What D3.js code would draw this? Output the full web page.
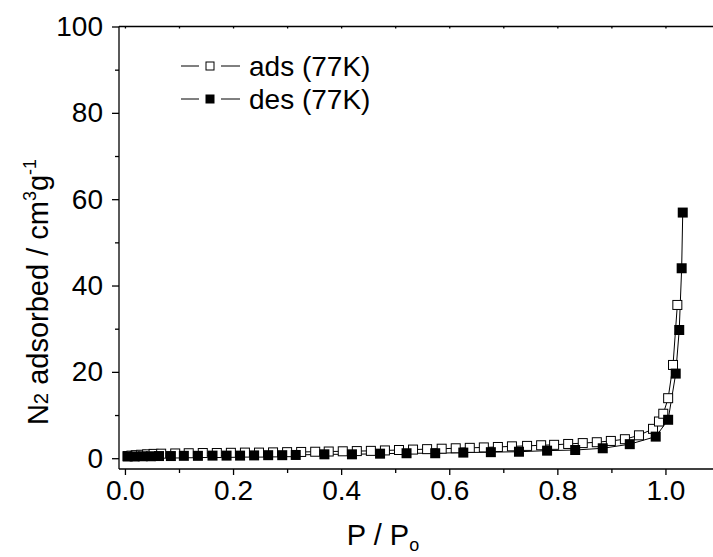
<!DOCTYPE html>
<html>
<head>
<meta charset="utf-8">
<script src="https://cdn.jsdelivr.net/npm/d3@7/dist/d3.min.js"></script>
<style>
  html, body { margin: 0; padding: 0; background: #fff; }
  svg { display: block; }
  text { font-family: "Liberation Sans", Arial, sans-serif; fill: #000; }
</style>
</head>
<body>
<svg id="chart" width="713" height="557"></svg>
<script>
// N2 isotherm at 77 K: relative pressure vs adsorbed volume (cm3/g)
const adsP = [0.005, 0.012, 0.02, 0.03, 0.041, 0.053, 0.067, 0.093, 0.118, 0.144, 0.170, 0.196,
  0.222, 0.248, 0.274, 0.300, 0.326, 0.352, 0.377, 0.403, 0.429, 0.455, 0.481, 0.507, 0.533,
  0.559, 0.586, 0.612, 0.638, 0.664, 0.690, 0.716, 0.744, 0.770, 0.794, 0.820, 0.847, 0.873,
  0.899, 0.925, 0.951, 0.977, 0.988, 0.996, 1.005, 1.014, 1.022];
const adsV = [0.5, 0.6, 0.7, 0.8, 0.9, 1.0, 1.05, 1.1, 1.15, 1.2, 1.2, 1.25,
  1.3, 1.3, 1.35, 1.4, 1.45, 1.5, 1.55, 1.6, 1.65, 1.7, 1.8, 1.9, 2.0,
  2.1, 2.2, 2.3, 2.4, 2.5, 2.6, 2.75, 2.85, 3.0, 3.1, 3.3, 3.5, 3.7,
  4.0, 4.4, 5.3, 6.8, 8.5, 10.3, 13.9, 21.6, 35.5];

const desP = [0.005, 0.018, 0.033, 0.048, 0.063, 0.085, 0.109, 0.135, 0.162, 0.188, 0.213,
  0.239, 0.265, 0.291, 0.316, 0.369, 0.420, 0.472, 0.521, 0.574, 0.626, 0.677, 0.729, 0.781,
  0.833, 0.884, 0.934, 0.982, 1.005, 1.019, 1.0255, 1.030, 1.032];
const desV = [0.4, 0.4, 0.45, 0.45, 0.5, 0.5, 0.55, 0.55, 0.6, 0.6, 0.6,
  0.65, 0.7, 0.7, 0.75, 0.9, 0.9, 1.05, 1.15, 1.15, 1.3, 1.4, 1.5, 1.75,
  1.9, 2.3, 3.25, 5.0, 8.9, 19.6, 29.7, 44.0, 56.9];

const seriesNames = ["ads (77K)", "des (77K)"];
const xTicks = [0, 0.2, 0.4, 0.6, 0.8, 1.0];
const yTicks = [0, 20, 40, 60, 80, 100];

const svg = d3.select("#chart");
const plotL = 119, plotT = 26.5, plotB = 469, plotR = 719.5;

const x = d3.scaleLinear().domain([-0.011, 1.1]).range([plotL, plotR]);
const y = d3.scaleLinear().domain([-2.5, 100]).range([plotB, plotT]);

const fs = 28;      // tick labels and legend
const fsTitle = 29; // axis titles

// frame lines
svg.append("line").attr("x1", plotL).attr("x2", plotR).attr("y1", plotT).attr("y2", plotT)
  .attr("stroke", "#000").attr("stroke-width", 1.3);
svg.append("line").attr("x1", plotL).attr("x2", plotR).attr("y1", plotB).attr("y2", plotB)
  .attr("stroke", "#000").attr("stroke-width", 1.3);
svg.append("line").attr("x1", plotL).attr("x2", plotL).attr("y1", plotT).attr("y2", plotB)
  .attr("stroke", "#000").attr("stroke-width", 1.3);

// bottom axis
const xMinor = d3.range(0, 1.11, 0.1);
const xAxis = d3.axisBottom(x).tickValues(xTicks).tickFormat(d3.format(".1f"))
  .tickSizeInner(6).tickSizeOuter(0).tickPadding(5);
const gx = svg.append("g").attr("transform", `translate(0,${plotB})`).call(xAxis);
gx.select(".domain").remove();
gx.selectAll(".tick line").attr("stroke-width", 1.3);
gx.selectAll(".tick text").attr("font-size", fs).attr("font-family", "Liberation Sans, Arial, sans-serif");
const gxm = svg.append("g").attr("transform", `translate(0,${plotB})`)
  .call(d3.axisBottom(x).tickValues(xMinor.filter((d, i) => i % 2 === 1)).tickSize(4).tickFormat(""));
gxm.select(".domain").remove();
gxm.selectAll(".tick line").attr("stroke-width", 1.3);

// top axis: small inward ticks
const gt = svg.append("g").attr("transform", `translate(0,${plotT})`)
  .call(d3.axisBottom(x).tickValues(xMinor).tickSize(2).tickFormat(""));
gt.select(".domain").remove();
gt.selectAll(".tick line").attr("stroke-width", 1.3);

// left axis
const yMinor = d3.range(10, 100, 20);
const yAxis = d3.axisLeft(y).tickValues(yTicks).tickFormat(d3.format("d"))
  .tickSizeInner(7).tickSizeOuter(0).tickPadding(9);
const gy = svg.append("g").attr("transform", `translate(${plotL},0)`).call(yAxis);
gy.select(".domain").remove();
gy.selectAll(".tick line").attr("stroke-width", 1.3);
gy.selectAll(".tick text").attr("font-size", fs).attr("font-family", "Liberation Sans, Arial, sans-serif");
const gym = svg.append("g").attr("transform", `translate(${plotL},0)`)
  .call(d3.axisLeft(y).tickValues(yMinor).tickSize(4).tickFormat(""));
gym.select(".domain").remove();
gym.selectAll(".tick line").attr("stroke-width", 1.3);

// series
const ads = adsP.map((p, i) => [p, adsV[i]]);
const des = desP.map((p, i) => [p, desV[i]]);
const line = d3.line().x(d => x(d[0])).y(d => y(d[1]));

svg.append("path").datum(ads).attr("d", line).attr("fill", "none")
  .attr("stroke", "#000").attr("stroke-width", 1);
svg.append("path").datum(des).attr("d", line).attr("fill", "none")
  .attr("stroke", "#000").attr("stroke-width", 1);

const sq = 9;
svg.append("g").selectAll("rect").data(ads).join("rect")
  .attr("x", d => x(d[0]) - sq / 2).attr("y", d => y(d[1]) - sq / 2)
  .attr("width", sq).attr("height", sq)
  .attr("fill", "#fff").attr("stroke", "#000").attr("stroke-width", 1);
svg.append("g").selectAll("rect").data(des).join("rect")
  .attr("x", d => x(d[0]) - sq / 2 - 0.5).attr("y", d => y(d[1]) - sq / 2 - 0.5)
  .attr("width", sq + 1).attr("height", sq + 1)
  .attr("fill", "#000");

// legend
const legend = svg.append("g");
const legRows = [{ name: seriesNames[0], filled: false, cy: 66 }, { name: seriesNames[1], filled: true, cy: 99 }];
legRows.forEach(r => {
  legend.append("line").attr("x1", 181).attr("x2", 199).attr("y1", r.cy).attr("y2", r.cy)
    .attr("stroke", "#000").attr("stroke-width", 1);
  legend.append("line").attr("x1", 221).attr("x2", 240).attr("y1", r.cy).attr("y2", r.cy)
    .attr("stroke", "#000").attr("stroke-width", 1);
  if (r.filled) {
    legend.append("rect").attr("x", 205.5).attr("y", r.cy - 4.5).attr("width", 9).attr("height", 9).attr("fill", "#000");
  } else {
    legend.append("rect").attr("x", 206).attr("y", r.cy - 4).attr("width", 8).attr("height", 8)
      .attr("fill", "#fff").attr("stroke", "#000").attr("stroke-width", 1);
  }
  legend.append("text").attr("x", 249).attr("y", r.cy).attr("dy", "0.35em")
    .attr("font-size", fs).text(r.name);
});

// axis titles
const xt = svg.append("text").attr("x", 383).attr("y", 545).attr("text-anchor", "middle").attr("font-size", fsTitle);
xt.append("tspan").text("P / P");
xt.append("tspan").attr("font-size", fsTitle * 0.62).attr("dy", 6).text("o");

const yt = svg.append("text").attr("transform", "translate(48,292) rotate(-90)")
  .attr("text-anchor", "middle").attr("font-size", fsTitle);
yt.append("tspan").text("N");
yt.append("tspan").attr("font-size", fsTitle * 0.7).text("2");
yt.append("tspan").text(" adsorbed / cm");
yt.append("tspan").attr("font-size", fsTitle * 0.62).attr("dy", -12).text("3");
yt.append("tspan").attr("dy", 12).text("g");
yt.append("tspan").attr("font-size", fsTitle * 0.62).attr("dy", -12).text("-1");
</script>
</body>
</html>
